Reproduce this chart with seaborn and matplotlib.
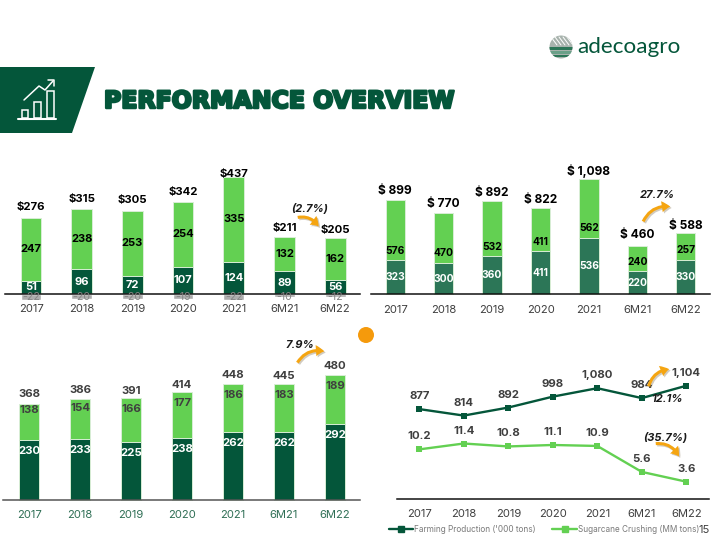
import matplotlib
matplotlib.use("Agg")
import matplotlib.pyplot as plt
import matplotlib.patheffects as pe
from matplotlib.lines import Line2D
from matplotlib.patches import Circle, FancyArrowPatch, Polygon, Rectangle
import seaborn as sns

sns.set_theme(style="white")
plt.rcParams['font.family'] = ['Inter', 'DejaVu Sans']

# Data
periods = ["2017", "2018", "2019", "2020", "2021", "6M21", "6M22"]

ebitda_farming = [51, 96, 72, 107, 124, 89, 56]
ebitda_sugar = [247, 238, 253, 254, 335, 132, 162]
ebitda_corporate = [-22, -20, -20, -19, -22, -10, -12]
ebitda_total = [276, 315, 305, 342, 437, 211, 205]

sales_farming = [323, 300, 360, 411, 536, 220, 330]
sales_sugar = [576, 470, 532, 411, 562, 240, 257]
sales_total = ["$ 899", "$ 770", "$ 892", "$ 822", "$ 1,098", "$ 460", "$ 588"]

area_farming = [230, 233, 225, 238, 262, 262, 292]
area_sugar = [138, 154, 166, 177, 186, 183, 189]
area_total = [368, 386, 391, 414, 448, 445, 480]

production = [877, 814, 892, 998, 1080, 984, 1104]
crushing = [10.2, 11.4, 10.8, 11.1, 10.9, 5.6, 3.6]

DARK = "#04563a"
MID = "#2c7657"
LIGHT = "#63d052"
GREY = "#adadad"
TEXT = "#3f3f3f"
ORANGE = "#f5a511"
HALO = "#d9eed6"

W, H = 720, 540
fig = plt.figure(figsize=(7.2, 5.4), dpi=100, facecolor="white")

# page-wide layer in pixel coordinates, for header, arrows and legends
page = fig.add_axes([0, 0, 1, 1], zorder=5)
page.set_xlim(0, W)
page.set_ylim(H, 0)
page.axis("off")


def panel(left, top, right, bottom, xlim, ylim):
    ax = fig.add_axes([left / W, 1 - bottom / H, (right - left) / W, (bottom - top) / H])
    ax.patch.set_alpha(0)
    ax.set_xlim(*xlim)
    ax.set_ylim(*ylim)
    return ax


def finish_axis(ax, xlim, ylim, tick_color=TEXT, pad=5, spine_color="#111111"):
    ax.set_xlim(*xlim)
    ax.set_ylim(*ylim)
    ax.set_xlabel("")
    ax.set_ylabel("")
    ax.set_yticks([])
    ax.set_xticks(range(len(periods)), periods)
    ax.tick_params(axis="x", length=0, pad=pad, labelsize=8.1, labelcolor=tick_color)
    sns.despine(ax=ax, left=True)
    ax.spines["bottom"].set_position(("data", 0))
    ax.spines["bottom"].set_color(spine_color)
    ax.spines["bottom"].set_linewidth(1.1)
    ax.xaxis.set_ticks_position("bottom")
    ax.tick_params(axis="x", which="both", bottom=False)


def label(ax, i, y, text, dy=0, color="black", size=8.0, weight="bold"):
    ax.annotate(text, (i, y), xytext=(0, dy), textcoords="offset pixels",
                ha="center", va="center", color=color, fontsize=size,
                fontweight=weight, zorder=6, annotation_clip=False)


def stacked(ax, lower, upper, lower_color, width):
    totals = [a + b for a, b in zip(lower, upper)]
    sns.barplot(x=periods, y=totals, color=LIGHT, width=width, saturation=1,
                edgecolor=HALO, linewidth=0.7, ax=ax)
    sns.barplot(x=periods, y=lower, color=lower_color, width=width, saturation=1,
                edgecolor=HALO, linewidth=0.7, ax=ax)
    return totals


def legend(handles, x, y, size, color="#595959", spacing=0.6):
    leg = page.legend(handles=handles, loc="center", bbox_to_anchor=(x, y),
                      bbox_transform=page.transData, ncol=len(handles), frameon=False,
                      fontsize=size, labelcolor=color, handlelength=0.7, handletextpad=0.3,
                      columnspacing=spacing, borderpad=0, borderaxespad=0)
    return leg


def square(color, name):
    return Line2D([], [], linestyle="none", marker="s", markersize=4.2,
                  color=color, label=name)


def curved(p0, p1, rad):
    page.add_patch(FancyArrowPatch(p0, p1, connectionstyle=f"arc3,rad={rad}",
                                   arrowstyle="simple,head_length=6,head_width=8,tail_width=2.2",
                                   color=ORANGE, linewidth=0, zorder=4,
                                   path_effects=[pe.withSimplePatchShadow(offset=(1, -1), alpha=0.25)]))


# --- EBITDA panel, top left
xlim1 = (-0.513, 6.49)
ylim1 = (-43, 504)
ax1 = panel(5, 165, 360, 305, xlim1, ylim1)
totals1 = stacked(ax1, ebitda_farming, ebitda_sugar, DARK, 0.41)
sns.barplot(x=periods, y=ebitda_corporate, color=GREY, width=0.41, saturation=1, ax=ax1)
finish_axis(ax1, xlim1, ylim1, pad=7)
lifts1 = [11, 10, 11, 10, 3, 9, 8]
for i in range(7):
    label(ax1, i, ebitda_farming[i] / 2, str(ebitda_farming[i]), color="white")
    label(ax1, i, ebitda_farming[i] + ebitda_sugar[i] / 2, str(ebitda_sugar[i]))
    label(ax1, i, totals1[i], f"${ebitda_total[i]}", dy=lifts1[i], size=8.2)
    label(ax1, i, 0, str(ebitda_corporate[i]), dy=-3, color="#858585", weight="normal", size=7.6)

# --- Sales panel, top right
xlim2 = (-0.5, 6.5)
ylim2 = (-100, 1240)
ax2 = panel(371, 164, 710, 304.8, xlim2, ylim2)
totals2 = stacked(ax2, sales_farming, sales_sugar, MID, 0.40)
finish_axis(ax2, xlim2, ylim2, pad=8)
lifts2 = [9, 9, 8, 8, 8, 11, 7]
for i in range(7):
    label(ax2, i, sales_farming[i] / 2, str(sales_farming[i]), color="white", size=7.4)
    label(ax2, i, sales_farming[i], str(sales_sugar[i]), dy=9.5, size=7.4)
    label(ax2, i, totals2[i], sales_total[i], dy=lifts2[i], size=8.6)

# --- Planted area panel, bottom left
xlim3 = (-0.51, 6.49)
ylim3 = (-38, 500)
ax3 = panel(3, 370, 360, 510, xlim3, ylim3)
totals3 = stacked(ax3, area_farming, area_sugar, DARK, 0.405)
finish_axis(ax3, xlim3, ylim3, tick_color="#2f6f55", pad=7, spine_color="#555555")
lifts3 = [10, 9, 7, 7, 9, 8, 9]
drops3 = [6, 9, 11, 11, 11, 11, 11]
for i in range(7):
    label(ax3, i, area_farming[i], str(area_farming[i]), dy=-11, color="white", size=8.2)
    label(ax3, i, totals3[i], str(area_sugar[i]), dy=-drops3[i], color=TEXT, size=8.2)
    label(ax3, i, totals3[i], str(area_total[i]), dy=lifts3[i], color=TEXT, size=8.2)

# --- Production and crushing panel, bottom right, two scales sharing a zero
xlim4 = (-0.5, 6.51)
ylim_prod = (-100, 1257)
ylim_crush = (-100 * 0.1034 / 4.92, 1257 * 0.1034 / 4.92)
ax4 = panel(397, 370, 709, 509.6, xlim4, ylim_prod)
ax4b = ax4.twinx()
ax4b.patch.set_alpha(0)
sns.lineplot(x=periods, y=production, color=DARK, linewidth=1.7, marker="s", markersize=5,
             markeredgewidth=0, sort=False, ax=ax4)
sns.lineplot(x=periods, y=crushing, color=LIGHT, linewidth=1.7, marker="s", markersize=5,
             markeredgewidth=0, sort=False, ax=ax4b)
finish_axis(ax4, xlim4, ylim_prod, pad=7)
ax4b.set_xlim(*xlim4)
ax4b.set_ylim(*ylim_crush)
ax4b.set_yticks([])
ax4b.set_ylabel("")
ax4b.axis("off")
for i in range(7):
    label(ax4, i, production[i], f"{production[i]:,}", dy=13, color=TEXT, size=8.2)
    label(ax4b, i, crushing[i], str(crushing[i]), dy=13, color=TEXT, size=8.2)

# --- Legends
legend([square(DARK, "Farming & Land Transformation"), square(LIGHT, "Sugar, Ethanol & Energy"),
        square(GREY, "Corporate")], 184, 322, 7.2, spacing=0.35)
legend([square(MID, "Farming & Land Transformation"), square(LIGHT, "Sugar, Ethanol & Energy")],
       549, 323.5, 7.9, spacing=0.3)
legend([square(DARK, "Farming Planted Area ('000 ha)"), square(LIGHT, "Sugarcane Planted Area ('000 ha)")],
       184, 532.5, 7.2, spacing=1.0)
line_a = Line2D([], [], color=DARK, linewidth=1.7, marker="s", markersize=4, label="Farming Production ('000 tons)")
line_b = Line2D([], [], color=LIGHT, linewidth=1.7, marker="s", markersize=4, label="Sugarcane Crushing (MM tons)")
leg4 = page.legend(handles=[line_a, line_b], loc="center", bbox_to_anchor=(544, 529.7),
                   bbox_transform=page.transData, ncol=2, frameon=False, fontsize=5.9,
                   labelcolor="#7a7a7a", handlelength=3, handletextpad=0.1, columnspacing=2,
                   borderpad=0, borderaxespad=0)
page.text(704, 530, "15", fontsize=8, color=TEXT, ha="center", va="center")

# --- Growth callouts
callouts = [("(2.7%)", 310, 208), ("27.7%", 657, 195), ("7.9%", 300, 345),
            ("12.1%", 667, 399), ("(35.7%)", 665, 437.5)]
for text, x, y in callouts:
    page.text(x, y, text, fontsize=8.0, fontweight="bold", fontstyle="italic",
              color="#1a1a1a", ha="center", va="center", zorder=6)
curved((295, 218), (320, 229), -0.4)
curved((642, 224), (673, 207), -0.4)
curved((296, 365), (327, 352), -0.4)
curved((648, 389), (672, 369), -0.4)
curved((653, 444), (680, 459), -0.4)
page.add_patch(Circle((366, 335), 8, color="#f59a0c", linewidth=0))

# --- Header
page.add_patch(Polygon([(0, 67), (95, 67), (72, 133), (0, 133)], color=DARK, linewidth=0))
page.text(104, 101, "PERFORMANCE OVERVIEW", fontsize=17.0, fontweight="bold", color=DARK,
          family=["DejaVu Sans"], ha="left", va="center",
          path_effects=[pe.withStroke(linewidth=1.8, foreground=DARK)])

# chart icon in the header
for x0, x1, y0 in [(22, 28, 110), (34, 41, 102), (47, 54, 91)]:
    page.add_patch(Rectangle((x0, y0), x1 - x0, 118 - y0, fill=False, edgecolor="white", linewidth=1.1))
page.plot([18, 56], [119, 119], color="white", linewidth=1.5)
page.plot([24, 39, 45, 53], [100, 86, 90, 81], color="white", linewidth=1.1)
page.plot([48, 54, 54], [80, 80, 86], color="white", linewidth=1.1)

# logo
globe = Circle((561, 47), 11.5, color="#a8b3ad", linewidth=0)
page.add_patch(globe)
for y0, c in [(47, "#2c7657"), (51, "#6aa088"), (54.5, "#2c7657")]:
    band = Rectangle((549, y0), 24, 2.6, color=c, linewidth=0)
    page.add_patch(band)
    band.set_clip_path(globe)
for x0 in [551, 555, 559, 563, 567]:
    stroke, = page.plot([x0, x0 + 6], [37, 45], color="white", linewidth=0.7)
    stroke.set_clip_path(globe)
page.text(577, 47, "adecoagro", fontsize=16.2, color=DARK, family=["Lato", "DejaVu Sans"],
          ha="left", va="center")

fig.savefig("out.png", dpi=100)
